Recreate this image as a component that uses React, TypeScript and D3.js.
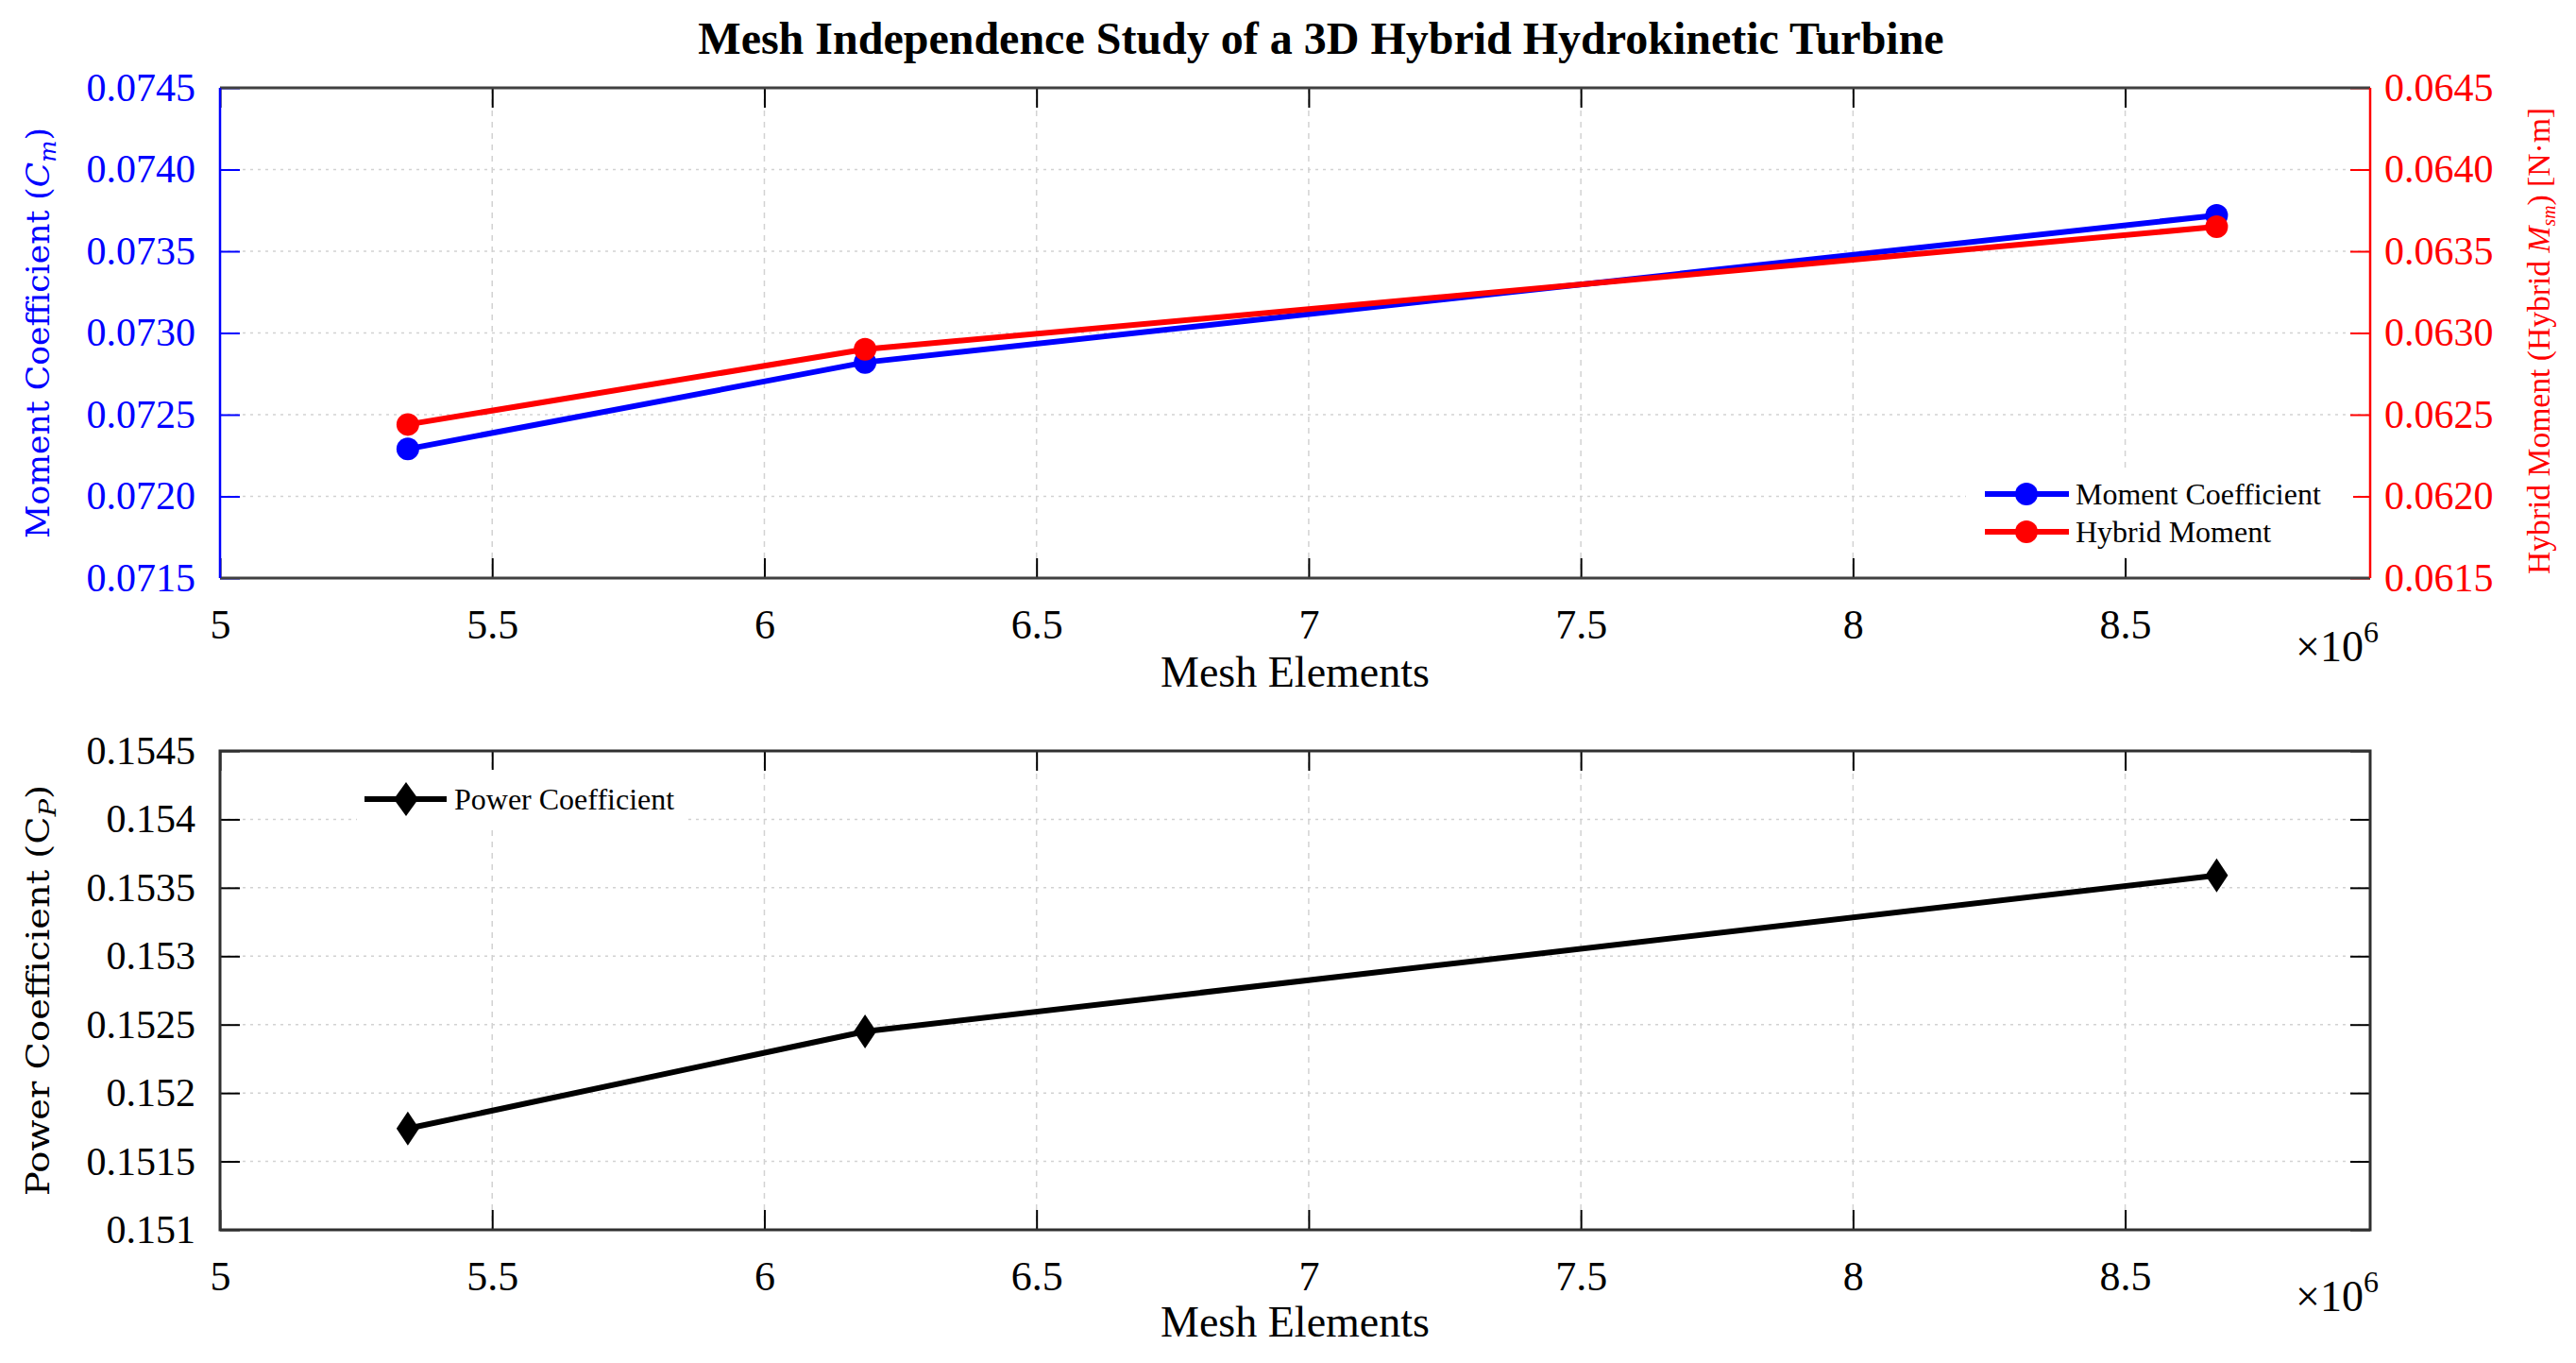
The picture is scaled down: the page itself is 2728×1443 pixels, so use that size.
import React, { useEffect, useRef } from 'react';
import * as d3 from 'd3';

// values
const meshElements = [5.345e6, 6.185e6, 8.668e6];
const momentCoefficient = [0.07229, 0.07282, 0.07372];
const hybridMoment = [0.06244, 0.0629, 0.06365];
const powerCoefficient = [0.15174, 0.15245, 0.15359];

const xDomain = [5e6, 8.95e6];
const xTicks = [5e6, 5.5e6, 6e6, 6.5e6, 7e6, 7.5e6, 8e6, 8.5e6];
const cmTicks = [0.0715, 0.072, 0.0725, 0.073, 0.0735, 0.074, 0.0745];
const hmTicks = [0.0615, 0.062, 0.0625, 0.063, 0.0635, 0.064, 0.0645];
const cpTicks = [0.151, 0.1515, 0.152, 0.1525, 0.153, 0.1535, 0.154, 0.1545];

const W = 2728;
const H = 1443;
const SERIF = '"Liberation Serif", "Times New Roman", serif';
const WIDE_SERIF = '"DejaVu Serif", serif';
const BLUE = '#0000ff';
const RED = '#ff0000';

const left = 233;
const right = 2510;
const topPanel = { top: 93, bottom: 612 };
const botPanel = { top: 795, bottom: 1302 };

type Sel = d3.Selection<SVGGElement, unknown, null, undefined>;

const App: React.FC = () => {
  const chartRef = useRef<SVGSVGElement>(null);

  useEffect(() => {
    if (!chartRef.current) return;
    const svg = d3.select(chartRef.current);
    svg.selectAll('*').remove();

    const x = d3.scaleLinear().domain(xDomain).range([left, right]);

    const styleAxis = (g: Sel, color: string, size: number) => {
      g.select('.domain').remove();
      g.selectAll('line').attr('stroke', color).attr('stroke-width', 2);
      g.selectAll('text')
        .attr('fill', color)
        .attr('font-size', size)
        .attr('font-family', SERIF);
    };

    const grid = (g: Sel, y: d3.ScaleLinear<number, number>, yTicks: number[], top: number, bottom: number) => {
      g.selectAll('.vgrid')
        .data(xTicks.filter(d => x(d) > left + 1 && x(d) < right - 1))
        .enter().append('line')
        .attr('x1', d => x(d)).attr('x2', d => x(d))
        .attr('y1', top).attr('y2', bottom)
        .attr('stroke', '#d2d2d2')
        .attr('stroke-width', 1.5)
        .attr('stroke-dasharray', '6,6');
      g.selectAll('.hgrid')
        .data(yTicks.filter(d => y(d) > top + 1 && y(d) < bottom - 1))
        .enter().append('line')
        .attr('x1', left).attr('x2', right)
        .attr('y1', d => y(d)).attr('y2', d => y(d))
        .attr('stroke', '#d2d2d2')
        .attr('stroke-width', 1.5)
        .attr('stroke-dasharray', '3,5');
    };

    const xAxes = (g: Sel, top: number, bottom: number) => {
      const b = g.append('g')
        .attr('transform', `translate(0,${bottom})`)
        .call(d3.axisBottom(x).tickValues(xTicks).tickSize(-21).tickPadding(33)
          .tickFormat(d => d3.format('~g')((d as number) / 1e6)));
      styleAxis(b, '#000', 44);
      const t = g.append('g')
        .attr('transform', `translate(0,${top})`)
        .call(d3.axisTop(x).tickValues(xTicks).tickSize(-21).tickFormat(() => ''));
      styleAxis(t, '#000', 44);
    };

    const xLabels = (g: Sel, tickBase: number) => {
      g.append('text')
        .attr('x', (left + right) / 2)
        .attr('y', tickBase + 55)
        .attr('text-anchor', 'middle')
        .attr('font-family', SERIF)
        .attr('font-size', 46)
        .text('Mesh Elements');
      const m = g.append('text')
        .attr('x', 2431)
        .attr('y', tickBase + 28)
        .attr('font-family', SERIF)
        .attr('font-size', 46);
      m.append('tspan').text('×10');
      m.append('tspan').attr('dy', -20).attr('font-size', 32).text('6');
    };

    const diamond = (cx: number, cy: number, hw: number, hh: number) =>
      `M${cx},${cy - hh}L${cx + hw},${cy}L${cx},${cy + hh}L${cx - hw},${cy}Z`;

    // ---------- top panel ----------
    const gt = svg.append('g');
    const yCm = d3.scaleLinear().domain([0.0715, 0.0745]).range([topPanel.bottom, topPanel.top]);
    const yHm = d3.scaleLinear().domain([0.0615, 0.0645]).range([topPanel.bottom, topPanel.top]);

    grid(gt, yCm, cmTicks, topPanel.top, topPanel.bottom);
    xAxes(gt, topPanel.top, topPanel.bottom);

    const la = gt.append('g')
      .attr('transform', `translate(${left},0)`)
      .call(d3.axisLeft(yCm).tickValues(cmTicks).tickSize(-21).tickPadding(26).tickFormat(d3.format('.4f')));
    styleAxis(la, BLUE, 42);

    const ra = gt.append('g')
      .attr('transform', `translate(${right},0)`)
      .call(d3.axisRight(yHm).tickValues(hmTicks).tickSize(-21).tickPadding(15).tickFormat(d3.format('.4f')));
    styleAxis(ra, RED, 42);

    // frame
    gt.append('line').attr('x1', left).attr('x2', right).attr('y1', topPanel.top).attr('y2', topPanel.top)
      .attr('stroke', '#404040').attr('stroke-width', 3);
    gt.append('line').attr('x1', left).attr('x2', right).attr('y1', topPanel.bottom).attr('y2', topPanel.bottom)
      .attr('stroke', '#404040').attr('stroke-width', 3);
    gt.append('line').attr('x1', left).attr('x2', left).attr('y1', topPanel.top).attr('y2', topPanel.bottom)
      .attr('stroke', BLUE).attr('stroke-width', 2.5);
    gt.append('line').attr('x1', right).attr('x2', right).attr('y1', topPanel.top).attr('y2', topPanel.bottom)
      .attr('stroke', RED).attr('stroke-width', 2.5);

    const idx = meshElements.map((_, i) => i);
    const lineCm = d3.line<number>().x(i => x(meshElements[i])).y(i => yCm(momentCoefficient[i]));
    const lineHm = d3.line<number>().x(i => x(meshElements[i])).y(i => yHm(hybridMoment[i]));

    gt.append('path').attr('d', lineCm(idx)).attr('fill', 'none').attr('stroke', BLUE).attr('stroke-width', 6);
    gt.selectAll('.cm').data(idx).enter().append('circle')
      .attr('cx', i => x(meshElements[i])).attr('cy', i => yCm(momentCoefficient[i]))
      .attr('r', 12).attr('fill', BLUE);
    gt.append('path').attr('d', lineHm(idx)).attr('fill', 'none').attr('stroke', RED).attr('stroke-width', 6);
    gt.selectAll('.hm').data(idx).enter().append('circle')
      .attr('cx', i => x(meshElements[i])).attr('cy', i => yHm(hybridMoment[i]))
      .attr('r', 12).attr('fill', RED);

    // legend
    gt.append('rect').attr('x', 2082).attr('y', 498).attr('width', 410).attr('height', 92).attr('fill', '#fff');
    [
      { name: 'Moment Coefficient', color: BLUE, y: 523 },
      { name: 'Hybrid Moment', color: RED, y: 563 },
    ].forEach(item => {
      gt.append('line').attr('x1', 2102).attr('x2', 2191).attr('y1', item.y).attr('y2', item.y)
        .attr('stroke', item.color).attr('stroke-width', 6);
      gt.append('circle').attr('cx', 2146).attr('cy', item.y).attr('r', 12).attr('fill', item.color);
      gt.append('text').attr('x', 2198).attr('y', item.y).attr('dy', '0.33em')
        .attr('font-family', SERIF).attr('font-size', 32).text(item.name);
    });

    xLabels(gt, 672);

    const ylt = gt.append('text')
      .attr('transform', `translate(52,${(topPanel.top + topPanel.bottom) / 2}) rotate(-90)`)
      .attr('text-anchor', 'middle')
      .attr('font-family', WIDE_SERIF)
      .attr('font-size', 34)
      .attr('fill', BLUE)
      .attr('textLength', 435)
      .attr('lengthAdjust', 'spacingAndGlyphs');
    ylt.append('tspan').text('Moment Coefficient  (');
    ylt.append('tspan').attr('font-style', 'italic').text('C');
    ylt.append('tspan').attr('font-style', 'italic').attr('font-size', 24).attr('dy', 7).text('m');
    ylt.append('tspan').attr('dy', -7).text(')');

    const yrt = gt.append('text')
      .attr('transform', `translate(2700,361) rotate(-90)`)
      .attr('text-anchor', 'middle')
      .attr('font-family', SERIF)
      .attr('font-size', 34)
      .attr('fill', RED)
      .attr('textLength', 494)
      .attr('lengthAdjust', 'spacingAndGlyphs');
    yrt.append('tspan').text('Hybrid Moment (Hybrid ');
    yrt.append('tspan').attr('font-style', 'italic').text('M');
    yrt.append('tspan').attr('font-style', 'italic').attr('font-size', 20).attr('dy', 6).text('sm');
    yrt.append('tspan').attr('dy', -6).text(')  [N·m]');

    svg.append('text')
      .attr('x', 1399)
      .attr('y', 57)
      .attr('text-anchor', 'middle')
      .attr('font-family', SERIF)
      .attr('font-weight', 'bold')
      .attr('font-size', 48)
      .text('Mesh Independence Study of a 3D Hybrid Hydrokinetic Turbine');

    // ---------- bottom panel ----------
    const gb = svg.append('g');
    const yCp = d3.scaleLinear().domain([0.151, 0.1545]).range([botPanel.bottom, botPanel.top]);

    grid(gb, yCp, cpTicks, botPanel.top, botPanel.bottom);
    xAxes(gb, botPanel.top, botPanel.bottom);

    const lb = gb.append('g')
      .attr('transform', `translate(${left},0)`)
      .call(d3.axisLeft(yCp).tickValues(cpTicks).tickSize(-21).tickPadding(26).tickFormat(d3.format('~g')));
    styleAxis(lb, '#000', 42);
    const rb = gb.append('g')
      .attr('transform', `translate(${right},0)`)
      .call(d3.axisRight(yCp).tickValues(cpTicks).tickSize(-21).tickFormat(() => ''));
    styleAxis(rb, '#000', 42);

    gb.append('rect')
      .attr('x', left).attr('y', botPanel.top)
      .attr('width', right - left).attr('height', botPanel.bottom - botPanel.top)
      .attr('fill', 'none').attr('stroke', '#303030').attr('stroke-width', 3);

    const lineCp = d3.line<number>().x(i => x(meshElements[i])).y(i => yCp(powerCoefficient[i]));
    gb.append('path').attr('d', lineCp(idx)).attr('fill', 'none').attr('stroke', '#000').attr('stroke-width', 6);
    gb.selectAll('.cp').data(idx).enter().append('path')
      .attr('d', i => diamond(x(meshElements[i]), yCp(powerCoefficient[i]), 12, 18))
      .attr('fill', '#000');

    gb.append('rect').attr('x', 378).attr('y', 815).attr('width', 350).attr('height', 62).attr('fill', '#fff');
    gb.append('line').attr('x1', 386).attr('x2', 473).attr('y1', 846).attr('y2', 846)
      .attr('stroke', '#000').attr('stroke-width', 6);
    gb.append('path').attr('d', diamond(430, 846, 13, 18)).attr('fill', '#000');
    gb.append('text').attr('x', 481).attr('y', 846).attr('dy', '0.33em')
      .attr('font-family', SERIF).attr('font-size', 32).text('Power Coefficient');

    xLabels(gb, 1360);

    const ylb = gb.append('text')
      .attr('transform', `translate(52,${(botPanel.top + botPanel.bottom) / 2}) rotate(-90)`)
      .attr('text-anchor', 'middle')
      .attr('font-family', WIDE_SERIF)
      .attr('font-size', 34)
      .attr('fill', '#000')
      .attr('textLength', 435)
      .attr('lengthAdjust', 'spacingAndGlyphs');
    ylb.append('tspan').text('Power Coefficient  (C');
    ylb.append('tspan').attr('font-style', 'italic').attr('font-size', 24).attr('dy', 7).text('P');
    ylb.append('tspan').attr('dy', -7).text(')');
  }, []);

  return (
    <svg
      ref={chartRef}
      width={W}
      height={H}
      style={{ position: 'absolute', left: 0, top: 0, display: 'block', background: '#fff' }}
    />
  );
};

export default App;
